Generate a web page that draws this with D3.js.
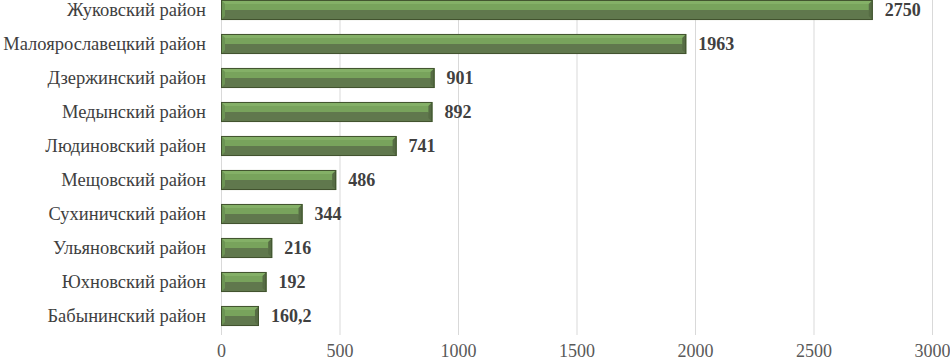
<!DOCTYPE html>
<html>
<head>
<meta charset="utf-8">
<script src="https://cdn.jsdelivr.net/npm/d3@7"></script>
<style>
  body { margin: 0; background: #fff; }
  svg text { font-family: "Liberation Serif", "Times New Roman", Times, "DejaVu Serif", serif !important; }
</style>
</head>
<body>
<svg width="950" height="361"></svg>
<script>
// data
var districts = ["Жуковский район", "Малоярославецкий район", "Дзержинский район", "Медынский район",
  "Людиновский район", "Мещовский район", "Сухиничский район", "Ульяновский район",
  "Юхновский район", "Бабынинский район"];
var values = [2750, 1963, 901, 892, 741, 486, 344, 216, 192, 160.2];
var valueLabels = ["2750", "1963", "901", "892", "741", "486", "344", "216", "192", "160,2"];
var xTicks = [0, 500, 1000, 1500, 2000, 2500, 3000];

var svg = d3.select("svg");

var x = d3.scaleLinear().domain([0, 3000]).range([221, 932]);
var y = d3.scaleBand().domain(districts).range([-7, 333]).paddingInner(0.41).paddingOuter(0.205);

// gridlines
svg.append("g").selectAll("line")
  .data(xTicks)
  .enter().append("line")
  .attr("x1", function(d){ return x(d) + 0.5 })
  .attr("x2", function(d){ return x(d) + 0.5 })
  .attr("y1", 0)
  .attr("y2", 335)
  .style("stroke", "#d9d9d9")
  .style("stroke-width", 1);

// bars with a bevelled look
var bars = svg.append("g").selectAll("g")
  .data(districts)
  .enter().append("g")
  .attr("transform", function(d){ return "translate(" + x(0) + "," + y(d) + ")" });

var bh = y.bandwidth(), b = 4;

bars.append("rect")
  .attr("width", function(d, i){ return x(values[i]) - x(0) })
  .attr("height", bh)
  .style("fill", "#78a35c");

// lower darker half
bars.append("path")
  .attr("d", function(d, i){
    var w = x(values[i]) - x(0);
    return "M" + b + "," + (bh / 2) + "L" + (w - b) + "," + (bh / 2) + "L" + w + "," + bh + "L0," + bh + "Z";
  })
  .style("fill", "#60784d");

// top highlight
bars.append("path")
  .attr("d", function(d, i){
    var w = x(values[i]) - x(0);
    return "M0,0L" + w + ",0L" + (w - b) + "," + b + "L" + b + "," + b + "Z";
  })
  .style("fill", "#84b067");

// side bevels
bars.append("path")
  .attr("d", function(d, i){
    var w = x(values[i]) - x(0);
    return "M" + w + ",0L" + w + "," + bh + "L" + (w - b) + "," + (bh - b) + "L" + (w - b) + "," + b + "Z";
  })
  .style("fill", "#566c44");
bars.append("path")
  .attr("d", "M0,0L" + b + "," + b + "L" + b + "," + (bh - b) + "L0," + bh + "Z")
  .style("fill", "#6c9454");

bars.append("rect")
  .attr("x", 0.5).attr("y", 0.5)
  .attr("width", function(d, i){ return x(values[i]) - x(0) - 1 })
  .attr("height", bh - 1)
  .style("fill", "none")
  .style("stroke", "#41532f")
  .style("stroke-width", 1);

// category labels
svg.append("g").selectAll("text")
  .data(districts)
  .enter().append("text")
  .attr("x", 206)
  .attr("y", function(d){ return y(d) + bh / 2 })
  .attr("dy", "0.35em")
  .attr("text-anchor", "end")
  .style("font-size", "18.5px")
  .style("fill", "#404040")
  .text(function(d){ return d });

// value labels
svg.append("g").selectAll("text")
  .data(districts)
  .enter().append("text")
  .attr("x", function(d, i){ return x(values[i]) + 12 })
  .attr("y", function(d){ return y(d) + bh / 2 })
  .attr("dy", "0.35em")
  .style("font-size", "18px")
  .style("font-weight", "bold")
  .style("fill", "#404040")
  .text(function(d, i){ return valueLabels[i] });

// x axis
var xAxis = d3.axisBottom(x).tickValues(xTicks).tickFormat(d3.format("d")).tickSize(0).tickPadding(0);
var ax = svg.append("g").attr("transform", "translate(0,344)").call(xAxis);
ax.select(".domain").remove();
ax.selectAll("text")
  .attr("dy", "0.71em")
  .style("font-size", "18px")
  .style("fill", "#595959");
</script>
</body>
</html>
